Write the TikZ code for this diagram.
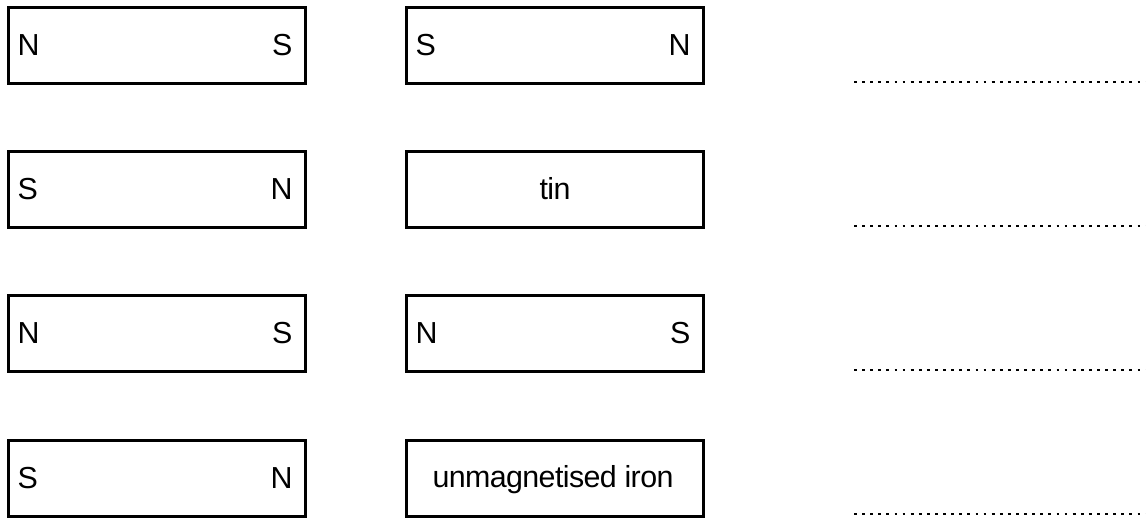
\documentclass[tikz,border=0pt]{standalone}
\usepackage{fontspec}
\setmainfont[LetterSpace=-2]{Liberation Sans}
\usetikzlibrary{positioning}

\begin{document}
\begin{tikzpicture}[x=0.5pt,y=-0.5pt,
    bar/.style={draw, line width=1.4pt, rectangle, minimum width=148.5pt, minimum height=38pt, inner sep=0pt, outer sep=0pt},
    pole/.style={inner sep=0pt, font=\fontsize{15.2}{18}\selectfont},
    answer/.style={line width=1.4pt, dash pattern=on 1.4pt off 2.65pt}]
    \useasboundingbox (0,0) rectangle (1146,520);

    \node (bar1a) [bar] at (157,45.5) {};
    \node (bar1b) [bar, right=50.5pt of bar1a] {};
    \node (bar2a) [bar, below=34pt of bar1a] {};
    \node (bar2b) [bar, right=50.5pt of bar2a] {};
    \node (bar3a) [bar, below=34pt of bar2a] {};
    \node (bar3b) [bar, right=50.5pt of bar3a] {};
    \node (bar4a) [bar, below=34.5pt of bar3a] {};
    \node (bar4b) [bar, right=50.5pt of bar4a] {};

    % poles
    \node (n1a) [pole, anchor=base west] at ([xshift=4.4pt,yshift=-4.75pt]bar1a.west) {N};
    \node (s1a) [pole, anchor=base east] at ([xshift=-6.3pt,yshift=-4.75pt]bar1a.east) {S};
    \node (s1b) [pole, anchor=base west] at ([xshift=4.4pt,yshift=-4.75pt]bar1b.west) {S};
    \node (n1b) [pole, anchor=base east] at ([xshift=-6.3pt,yshift=-4.75pt]bar1b.east) {N};
    \node (s2a) [pole, anchor=base west] at ([xshift=4.4pt,yshift=-4.75pt]bar2a.west) {S};
    \node (n2a) [pole, anchor=base east] at ([xshift=-6.3pt,yshift=-4.75pt]bar2a.east) {N};
    \node (tin) [pole, anchor=base] at ([yshift=-4.75pt]bar2b.center) {tin};
    \node (n3a) [pole, anchor=base west] at ([xshift=4.4pt,yshift=-4.75pt]bar3a.west) {N};
    \node (s3a) [pole, anchor=base east] at ([xshift=-6.3pt,yshift=-4.75pt]bar3a.east) {S};
    \node (n3b) [pole, anchor=base west] at ([xshift=4.4pt,yshift=-4.75pt]bar3b.west) {N};
    \node (s3b) [pole, anchor=base east] at ([xshift=-6.3pt,yshift=-4.75pt]bar3b.east) {S};
    \node (s4a) [pole, anchor=base west] at ([xshift=4.4pt,yshift=-4.75pt]bar4a.west) {S};
    \node (n4a) [pole, anchor=base east] at ([xshift=-6.3pt,yshift=-4.75pt]bar4a.east) {N};
    \node (iron) [pole, anchor=base] at ([xshift=-1pt,yshift=-4.5pt]bar4b.center) {unmagnetised iron};

    % answer lines
    \coordinate (ans1a) at (854,82);
    \coordinate (ans1b) at (1146,82);
    \coordinate (ans2a) at (854,226);
    \coordinate (ans2b) at (1146,226);
    \coordinate (ans3a) at (854,370);
    \coordinate (ans3b) at (1146,370);
    \coordinate (ans4a) at (854,514);
    \coordinate (ans4b) at (1146,514);
    \draw [answer] (ans1a) -- (ans1b);
    \draw [answer] (ans2a) -- (ans2b);
    \draw [answer] (ans3a) -- (ans3b);
    \draw [answer] (ans4a) -- (ans4b);
\end{tikzpicture}
\end{document}
